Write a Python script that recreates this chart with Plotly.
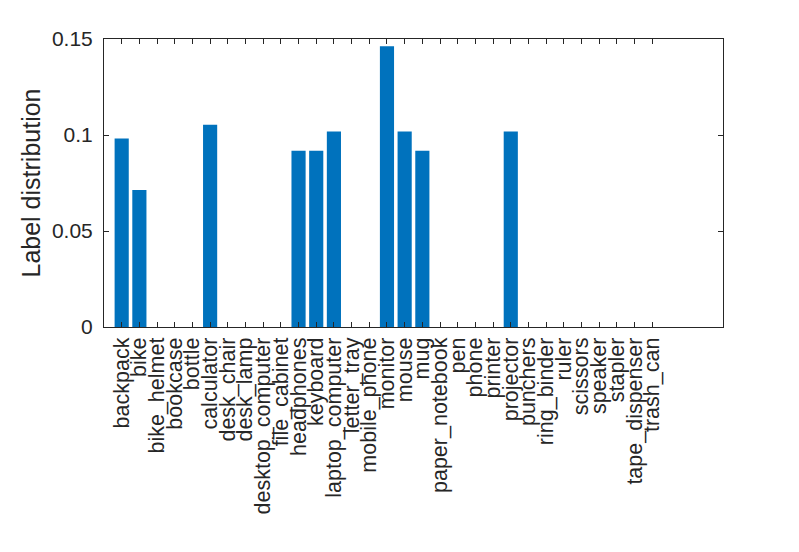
import plotly.graph_objects as go

# Office-31 class names
categories = [
    "backpack", "bike", "bike_helmet", "bookcase", "bottle", "calculator",
    "desk_chair", "desk_lamp", "desktop_computer", "file_cabinet", "headphones",
    "keyboard", "laptop_computer", "letter_tray", "mobile_phone", "monitor",
    "mouse", "mug", "paper_notebook", "pen", "phone", "printer", "projector",
    "punchers", "ring_binder", "ruler", "scissors", "speaker", "stapler",
    "tape_dispenser", "trash_can",
]
# label distribution
label_dist = [
    0.0982, 0.0714, 0, 0, 0, 0.1054,
    0, 0, 0, 0, 0.0918,
    0.0918, 0.1018, 0, 0, 0.1462,
    0.1018, 0.0918, 0, 0, 0, 0, 0.1018,
    0, 0, 0, 0, 0, 0,
    0, 0,
]
y_ticks = [0, 0.05, 0.1, 0.15]
y_tick_text = ["0", "0.05", "0.1", "0.15"]

axis_col = "#262626"

fig = go.Figure()
fig.add_trace(go.Bar(
    x=list(range(len(categories))),
    y=label_dist,
    width=0.8,
    marker=dict(color="#0072BD", line=dict(width=0)),
))

# page body adds an 8px offset, so margins are shifted to compensate
fig.update_layout(
    width=799,
    height=552,
    margin=dict(l=96, r=84, t=31, b=233),
    plot_bgcolor="white",
    paper_bgcolor="white",
    showlegend=False,
    font=dict(family="Liberation Sans, Arial, sans-serif", color=axis_col, size=21),
)
fig.update_xaxes(
    range=[-1, 34],
    tickmode="array",
    tickvals=list(range(len(categories))),
    ticktext=categories,
    tickangle=-90,
    ticks="inside",
    ticklen=5,
    tickcolor=axis_col,
    showline=True,
    linecolor=axis_col,
    linewidth=1,
    mirror="ticks",
    showgrid=False,
    zeroline=False,
    tickfont=dict(size=21.5),
    ticklabelstandoff=1,
)
fig.update_yaxes(
    range=[0, 0.15],
    tickmode="array",
    tickvals=y_ticks,
    ticktext=y_tick_text,
    ticks="inside",
    ticklen=5,
    tickcolor=axis_col,
    showline=True,
    linecolor=axis_col,
    linewidth=1,
    mirror="ticks",
    showgrid=False,
    zeroline=False,
    tickfont=dict(size=21),
    ticklabelstandoff=6,
    title=dict(text="Label distribution", font=dict(size=25), standoff=4),
)

fig.write_html("out.html")
